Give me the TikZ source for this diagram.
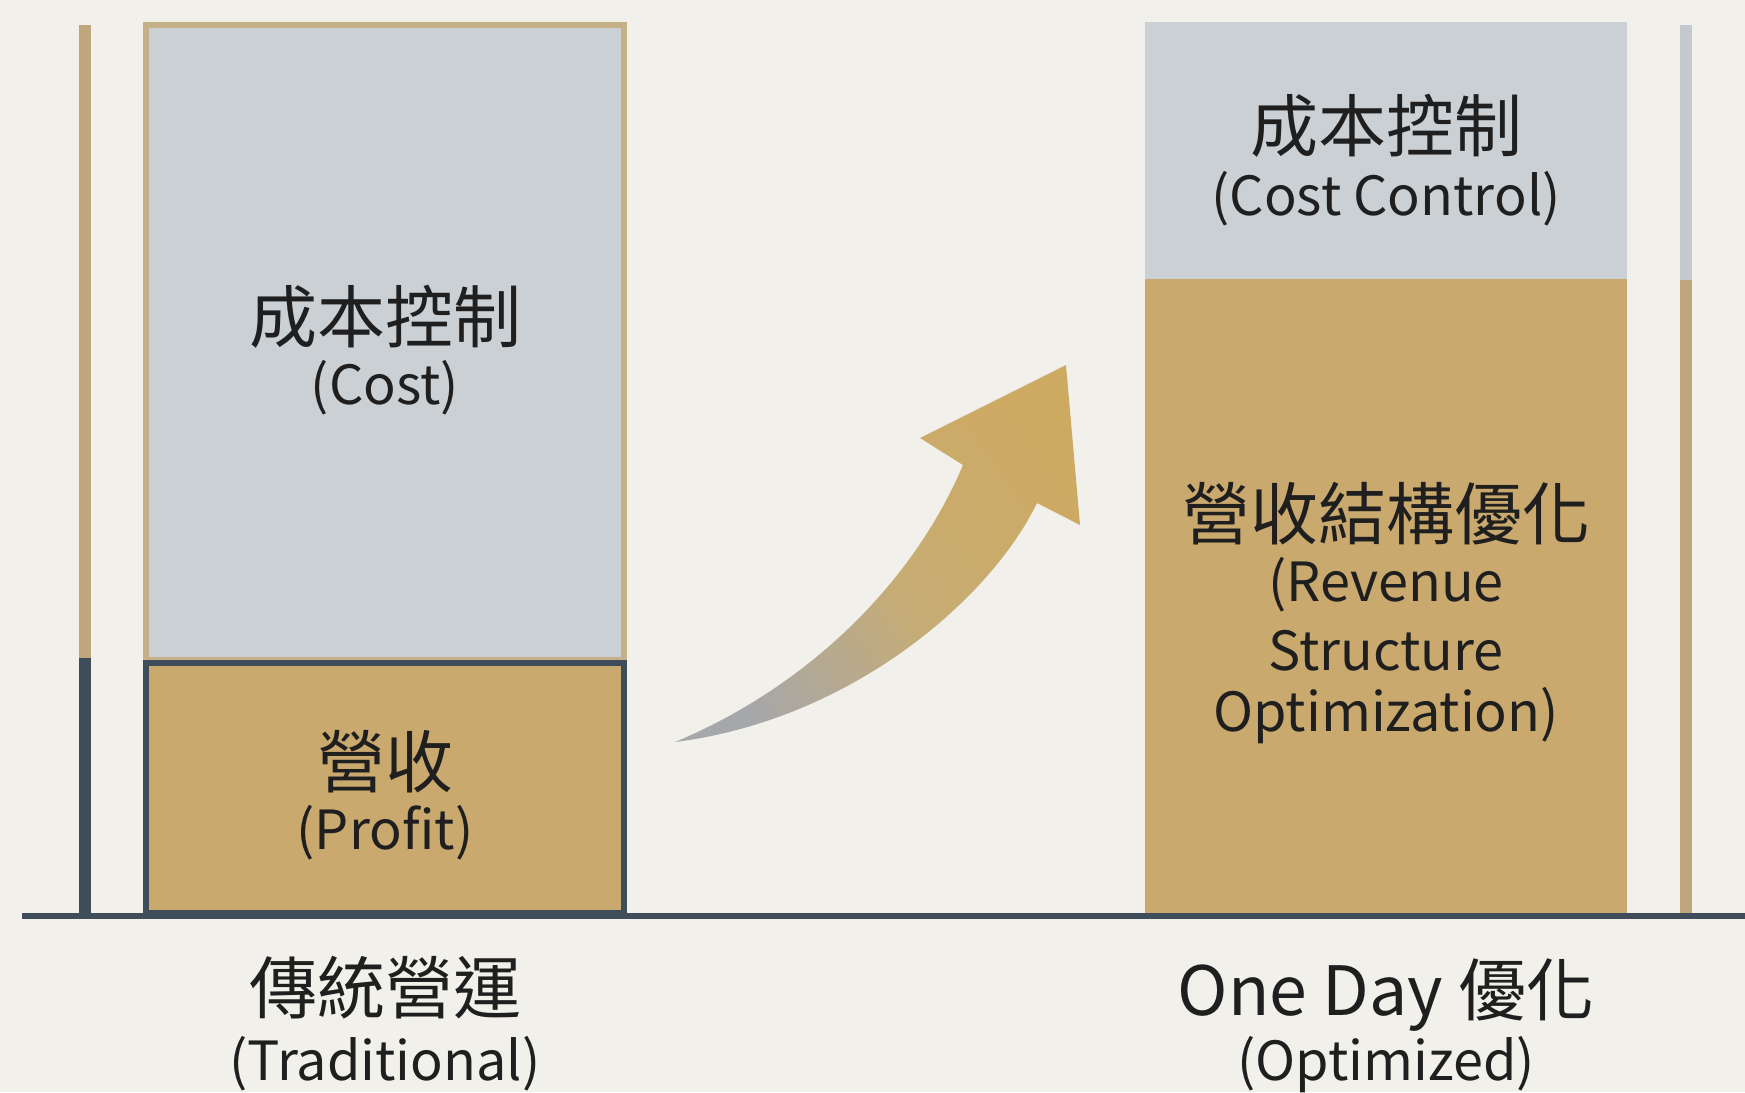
\documentclass[tikz,border=0pt]{standalone}
\usepackage{fontspec}
\setmainfont{Noto Sans CJK TC}
\definecolor{bg}{HTML}{F1F0EA}
\definecolor{costc}{HTML}{CBD0D4}
\definecolor{revc}{HTML}{C9A96E}
\definecolor{slate}{HTML}{3F4D5A}
\definecolor{tanborder}{HTML}{C6B08A}
\definecolor{barTan}{HTML}{C0A67C}
\definecolor{barGrey}{HTML}{C5C9CD}
\definecolor{ink}{HTML}{1F1F1F}
\definecolor{arrgrey}{HTML}{A6A7AA}
\definecolor{arrmid}{HTML}{C7AC74}
\definecolor{arrtan}{HTML}{CDAA62}
\begin{document}
\begin{tikzpicture}[x=1pt,y=-1pt,
  block/.style={rectangle, inner sep=0pt, outer sep=0pt},
  cjk/.style={font=\fontsize{68}{74}\selectfont, text=ink, anchor=base, inner sep=0pt},
  lat/.style={font=\fontsize{54}{60}\selectfont, text=ink, anchor=base, inner sep=0pt}]
\fill[bg] (0,0) rectangle (1745,1092);
\useasboundingbox (0,0) rectangle (1745,1092);
% left bar
\node[block, fill=barTan, minimum width=12pt, minimum height=633pt] (lbartop) at (85,341.5) {};
\node[block, fill=slate, minimum width=12pt, minimum height=258pt] (lbarbot) at (85,787) {};
% right bar
\node[block, fill=barGrey, minimum width=12pt, minimum height=255pt] (rbartop) at (1686,152.5) {};
\node[block, fill=barTan, minimum width=12pt, minimum height=636pt] (rbarbot) at (1686,598) {};
% left stacked box
\node[block, fill=costc, draw=tanborder, line width=6pt, minimum width=478pt, minimum height=635pt] (lcost) at (385,342.5) {};
\node[block, fill=revc, draw=slate, line width=6pt, minimum width=478pt, minimum height=250pt] (lprofit) at (385,788) {};
% right stacked box
\node[block, fill=costc, minimum width=482pt, minimum height=257pt] (rcost) at (1386,150.5) {};
\node[block, fill=revc, minimum width=482pt, minimum height=637pt] (rrev) at (1386,597.5) {};
% baseline
\coordinate (b0) at (22,916);
\coordinate (b1) at (1745,916);
\draw[slate, line width=6pt] (b0) -- (b1);
% curved arrow
\coordinate (tail) at (675,742);
\coordinate (nl) at (963,465);
\coordinate (bl) at (920,438);
\coordinate (tip) at (1066,365);
\coordinate (br) at (1080,525);
\coordinate (nr) at (1037,503);
\shade[left color=arrgrey, right color=arrtan, middle color=arrmid, shading angle=125]
  (tail) .. controls (800,690) and (910,590) .. (nl) -- (bl) -- (tip) -- (br) -- (nr)
  .. controls (990,600) and (850,720) .. (tail) -- cycle;
% texts left
\node[cjk] (t1) at (385,342.5) {成本控制};
\node[lat] (t2) at (385,404.5) {(Cost)};
\node[cjk] (t3) at (385,787.5) {營收};
\node[lat] (t4) at (385,849.5) {(Profit)};
\node[cjk] (t5) at (385,1013.5) {傳統營運};
\node[lat] (t6) at (385,1080.5) {(Traditional)};
% texts right
\node[cjk] (r1) at (1386,151.5) {成本控制};
\node[lat] (r2) at (1386,215.5) {(Cost Control)};
\node[cjk] (r3) at (1386,539.5) {營收結構優化};
\node[lat] (r4) at (1386,601.5) {(Revenue};
\node[lat] (r5) at (1386,670.5) {Structure};
\node[lat] (r6) at (1386,731.5) {Optimization)};
\node[cjk] (r7) at (1386,1015.5) {One Day 優化};
\node[lat] (r8) at (1386,1080.5) {(Optimized)};
\end{tikzpicture}
\end{document}
